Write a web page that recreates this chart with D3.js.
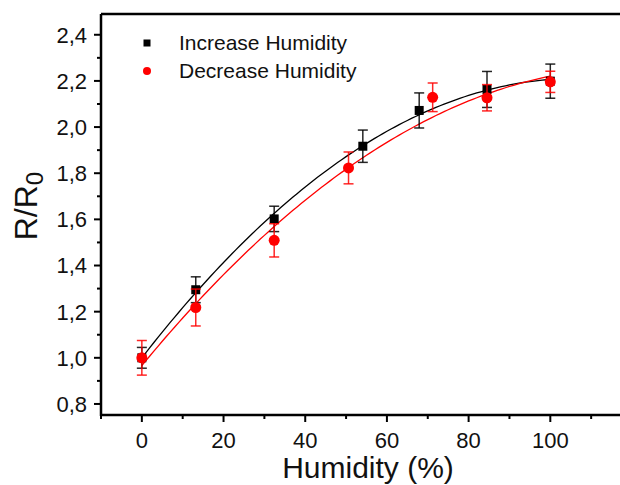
<!DOCTYPE html>
<html>
<head>
<meta charset="utf-8">
<script src="https://cdn.jsdelivr.net/npm/d3@7"></script>
<style>
  body { margin: 0; background: #fff; }
  svg text { font-family: "Liberation Sans", Arial, sans-serif; fill: #111; }
</style>
</head>
<body>
<div id="chart"></div>
<script>
// Data
let humidityInc = [0, 13.2, 32.4, 54.1, 67.9, 84.5, 100];
let ratioInc    = [1.0, 1.295, 1.602, 1.917, 2.072, 2.163, 2.199];
let errInc      = [0.045, 0.056, 0.055, 0.07, 0.076, 0.078, 0.074];

let humidityDec = [0, 13.2, 32.4, 50.6, 71.2, 84.5, 100];
let ratioDec    = [1.0, 1.218, 1.509, 1.823, 2.129, 2.127, 2.196];
let errDec      = [0.075, 0.08, 0.072, 0.069, 0.062, 0.057, 0.046];

let xTicks = [0, 20, 40, 60, 80, 100];
let yTicks = [0.8, 1.0, 1.2, 1.4, 1.6, 1.8, 2.0, 2.2, 2.4];

let width = 620, height = 485;

// the x axis runs on past the right edge of the picture (to 120)
let x = d3.scaleLinear().domain([-10, 120]).range([101, 632]);
let y = d3.scaleLinear().domain([0.75, 2.49]).range([415.5, 14]);

let svg = d3.select("#chart").append("svg")
    .attr("width", width)
    .attr("height", height);

// quadratic least squares fit, like the fitted curves in the figure
function quadFit(xs, ys) {
    let n = xs.length, s = [0, 0, 0, 0, 0], t = [0, 0, 0];
    for (let i = 0; i < n; i++) {
        for (let k = 0; k < 5; k++) s[k] += Math.pow(xs[i], k);
        for (let k = 0; k < 3; k++) t[k] += ys[i] * Math.pow(xs[i], k);
    }
    let m = [[s[0], s[1], s[2], t[0]], [s[1], s[2], s[3], t[1]], [s[2], s[3], s[4], t[2]]];
    for (let c = 0; c < 3; c++) {
        for (let r = c + 1; r < 3; r++) {
            let f = m[r][c] / m[c][c];
            for (let k = c; k < 4; k++) m[r][k] -= f * m[c][k];
        }
    }
    let b = [0, 0, 0];
    for (let r = 2; r >= 0; r--) {
        let v = m[r][3];
        for (let k = r + 1; k < 3; k++) v -= m[r][k] * b[k];
        b[r] = v / m[r][r];
    }
    return v => b[0] + b[1] * v + b[2] * v * v;
}

// Axes
let xAxis = svg.append("g").attr("transform", "translate(0,415)");
xAxis.append("path").attr("d", "M101,0H632").attr("stroke", "#000").attr("stroke-width", 2.5);
xAxis.selectAll(".minor").data(d3.range(-10, 121, 10).filter(v => v % 20 !== 0))
    .enter().append("line")
    .attr("x1", d => x(d)).attr("x2", d => x(d))
    .attr("y1", 0).attr("y2", 4)
    .attr("stroke", "#000").attr("stroke-width", 2);
xAxis.selectAll(".major").data(xTicks)
    .enter().append("line")
    .attr("x1", d => x(d)).attr("x2", d => x(d))
    .attr("y1", 0).attr("y2", 7)
    .attr("stroke", "#000").attr("stroke-width", 2);
xAxis.selectAll(".lbl").data(xTicks)
    .enter().append("text")
    .attr("x", d => x(d)).attr("y", 33)
    .attr("text-anchor", "middle")
    .style("font-size", "22px")
    .text(d => d);

// top frame line
svg.append("path").attr("d", "M101,14H632").attr("stroke", "#000").attr("stroke-width", 2.5);

let yAxis = svg.append("g").attr("transform", "translate(101,0)");
yAxis.append("path").attr("d", "M0,14V416").attr("stroke", "#000").attr("stroke-width", 2.5);
yAxis.selectAll(".minor").data(d3.range(0.9, 2.41, 0.2))
    .enter().append("line")
    .attr("x1", 0).attr("x2", -4)
    .attr("y1", d => y(d)).attr("y2", d => y(d))
    .attr("stroke", "#000").attr("stroke-width", 2);
yAxis.selectAll(".major").data(yTicks)
    .enter().append("line")
    .attr("x1", 0).attr("x2", -7)
    .attr("y1", d => y(d)).attr("y2", d => y(d))
    .attr("stroke", "#000").attr("stroke-width", 2);
yAxis.selectAll(".lbl").data(yTicks)
    .enter().append("text")
    .attr("x", -14).attr("y", d => y(d))
    .attr("dy", "0.36em")
    .attr("text-anchor", "end")
    .style("font-size", "22px")
    .text(d => d3.format(".1f")(d).replace(".", ","));

// Axis titles
svg.append("text")
    .attr("x", 368).attr("y", 478)
    .attr("text-anchor", "middle")
    .style("font-size", "30px")
    .text("Humidity (%)");

let yTitle = svg.append("text")
    .attr("transform", "translate(37,206) rotate(-90)")
    .attr("text-anchor", "middle")
    .style("font-size", "32px");
yTitle.append("tspan").text("R/R");
yTitle.append("tspan").attr("dy", 6).style("font-size", "24px").text("0");

// Series
let series = [
    {xs: humidityInc, ys: ratioInc, err: errInc, color: "#000", shape: "square"},
    {xs: humidityDec, ys: ratioDec, err: errDec, color: "#f00", shape: "circle"}
];

let line = d3.line().x(d => x(d[0])).y(d => y(d[1]));

series.forEach(function(s) {
    let fit = quadFit(s.xs, s.ys);
    svg.append("path")
        .datum(d3.range(0, 100.5, 1).map(v => [v, fit(v)]))
        .attr("d", line)
        .attr("fill", "none")
        .attr("stroke", s.color)
        .attr("stroke-width", 1.3);
});

series.forEach(function(s) {
    let pts = s.xs.map((v, i) => ({x: v, y: s.ys[i], e: s.err[i]}));
    let g = svg.append("g");
    let eb = g.selectAll(".eb").data(pts).enter().append("g")
        .attr("stroke", s.color).attr("stroke-width", 1.5).attr("stroke-opacity", 0.85);
    eb.append("line")
        .attr("x1", d => x(d.x)).attr("x2", d => x(d.x))
        .attr("y1", d => y(d.y - d.e)).attr("y2", d => y(d.y + d.e));
    eb.append("line")
        .attr("x1", d => x(d.x) - 5).attr("x2", d => x(d.x) + 5)
        .attr("y1", d => y(d.y + d.e)).attr("y2", d => y(d.y + d.e));
    eb.append("line")
        .attr("x1", d => x(d.x) - 5).attr("x2", d => x(d.x) + 5)
        .attr("y1", d => y(d.y - d.e)).attr("y2", d => y(d.y - d.e));
    if (s.shape === "square") {
        g.selectAll(".pt").data(pts).enter().append("rect")
            .attr("x", d => x(d.x) - 4.5).attr("y", d => y(d.y) - 4.5)
            .attr("width", 9).attr("height", 9)
            .attr("fill", s.color);
    } else {
        g.selectAll(".pt").data(pts).enter().append("circle")
            .attr("cx", d => x(d.x)).attr("cy", d => y(d.y))
            .attr("r", 5.5)
            .attr("fill", s.color);
    }
});

// Legend
let legend = svg.append("g");
legend.append("rect").attr("x", 143.5).attr("y", 39.5).attr("width", 7).attr("height", 7).attr("fill", "#000");
legend.append("circle").attr("cx", 147).attr("cy", 71).attr("r", 4).attr("fill", "#f00");
legend.append("text").attr("x", 179).attr("y", 50).style("font-size", "21px").text("Increase Humidity");
legend.append("text").attr("x", 179).attr("y", 78).style("font-size", "21px").text("Decrease Humidity");
</script>
</body>
</html>
